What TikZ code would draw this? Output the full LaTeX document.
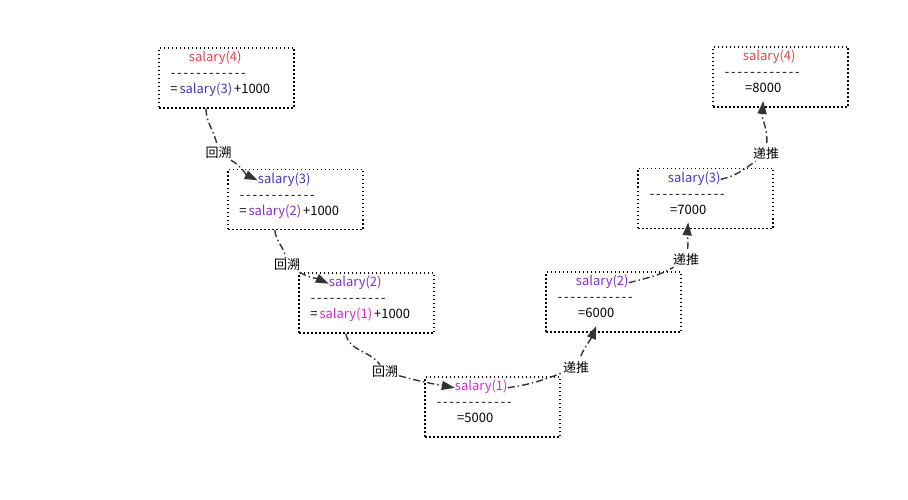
\documentclass[tikz,border=0pt]{standalone}
\usepackage{fontspec}
\newfontfamily\zhfont{Noto Sans CJK SC}
\usetikzlibrary{arrows.meta,positioning}
\definecolor{ink}{HTML}{333333}
\definecolor{sred}{HTML}{E0464B}
\definecolor{sblue}{HTML}{4338BA}
\definecolor{spurple}{HTML}{8130CC}
\definecolor{smag}{HTML}{D22BD2}
\newcommand{\dashrow}{\foreach \k in {1,...,12}{\makebox[6.4pt]{-}}}

\begin{document}
\begin{tikzpicture}[
  x=1pt, y=1pt,
  font=\zhfont\fontsize{13}{15}\selectfont,
  box/.style={draw=black, line width=1.5pt, dash pattern=on 1.5pt off 2.5pt,
              minimum width=135pt, minimum height=60pt, inner sep=0pt},
  txt/.style={inner sep=0pt, text height=9pt, text depth=3pt},
  val/.style={txt, inner ysep=5pt},
  arr/.style={-{Triangle[length=13pt, width=9pt]}, draw=ink, line width=1.4pt,
              dash pattern=on 7pt off 3pt on 1.5pt off 3pt},
  lbl/.style={fill=white, inner sep=1pt},
]
\useasboundingbox (0,0) rectangle (908,499);
% left side: backtracking
\node[box] (bx4l) at (226.5,421) {};
\node[txt, text=sred] (tl4) at ([xshift=57pt, yshift=-11.5pt]bx4l.north west) {salary(4)};
\node[txt] (dl4) at ([xshift=50pt, yshift=-27.5pt]bx4l.north west) {\dashrow};
\node[txt, anchor=west] (el4) at ([xshift=12pt, yshift=-43.5pt]bx4l.north west) {=};
\node[txt, text=sblue, right=1.5pt of el4] (cl4) {salary(3)};
\node[txt, right=1.5pt of cl4] (pl4) {+1000};

\node[box] (bx3l) at (295.5,299.5) {};
\node[txt, text=sblue] (tl3) at ([xshift=57pt, yshift=-11.5pt]bx3l.north west) {salary(3)};
\node[txt] (dl3) at ([xshift=50pt, yshift=-27.5pt]bx3l.north west) {\dashrow};
\node[txt, anchor=west] (el3) at ([xshift=12pt, yshift=-43.5pt]bx3l.north west) {=};
\node[txt, text=spurple, right=1.5pt of el3] (cl3) {salary(2)};
\node[txt, right=1.5pt of cl3] (pl3) {+1000};

\node[box] (bx2l) at (366.5,196) {};
\node[txt, text=spurple] (tl2) at ([xshift=57pt, yshift=-11.5pt]bx2l.north west) {salary(2)};
\node[txt] (dl2) at ([xshift=50pt, yshift=-27.5pt]bx2l.north west) {\dashrow};
\node[txt, anchor=west] (el2) at ([xshift=12pt, yshift=-43.5pt]bx2l.north west) {=};
\node[txt, text=smag, right=1.5pt of el2] (cl2) {salary(1)};
\node[txt, right=1.5pt of cl2] (pl2) {+1000};

% bottom
\node[box] (bx1) at (492.5,92) {};
\node[txt, text=smag] (t1) at ([xshift=57pt, yshift=-11.5pt]bx1.north west) {salary(1)};
\node[txt] (d1) at ([xshift=50pt, yshift=-27.5pt]bx1.north west) {\dashrow};
\node[val] (v1) at ([xshift=51pt, yshift=-43.5pt]bx1.north west) {=5000};

% right side: recursion back up
\node[box] (bx2r) at (613.5,197) {};
\node[txt, text=spurple] (tr2) at ([xshift=57pt, yshift=-11.5pt]bx2r.north west) {salary(2)};
\node[txt] (dr2) at ([xshift=50pt, yshift=-27.5pt]bx2r.north west) {\dashrow};
\node[val] (vr2) at ([xshift=51pt, yshift=-43.5pt]bx2r.north west) {=6000};

\node[box] (bx3r) at (705.5,300.5) {};
\node[txt, text=sblue] (tr3) at ([xshift=57pt, yshift=-11.5pt]bx3r.north west) {salary(3)};
\node[txt] (dr3) at ([xshift=50pt, yshift=-27.5pt]bx3r.north west) {\dashrow};
\node[val] (vr3) at ([xshift=51pt, yshift=-43.5pt]bx3r.north west) {=7000};

\node[box] (bx4r) at (780.5,422) {};
\node[txt, text=sred] (tr4) at ([xshift=57pt, yshift=-11.5pt]bx4r.north west) {salary(4)};
\node[txt] (dr4) at ([xshift=50pt, yshift=-27.5pt]bx4r.north west) {\dashrow};
\node[val] (vr4) at ([xshift=51pt, yshift=-43.5pt]bx4r.north west) {=8000};

% labels
\node[lbl] (bk1) at (218.5,346) {回溯};
\node[lbl] (bk2) at (287,234) {回溯};
\node[lbl] (bk3) at (385,127) {回溯};
\node[lbl] (fw1) at (576,131) {递推};
\node[lbl] (fw2) at (686,239) {递推};
\node[lbl] (fw3) at (766,345) {递推};

\draw[arr] (cl4.south |- bx4l.south) to[out=-88, in=100] (bk1) to[out=-30, in=155] (tl3.west);
\draw[arr] (cl3.south |- bx3l.south) to[out=-85, in=100] (bk2) to[out=-30, in=155] (tl2.west);
\draw[arr] (cl2.south |- bx2l.south) to[out=-80, in=125] (bk3) to[out=-15, in=170] (t1.west);
\draw[arr, shorten <=5pt] (t1.east) to[out=8, in=200] (fw1) to[out=68, in=-112] (vr2.south);
\draw[arr, shorten <=4pt] (tr2.east) to[out=15, in=210] (fw2) to[out=82, in=-95] (vr3.south);
\draw[arr, shorten <=4pt] (tr3.east) to[out=12, in=215] (fw3) to[out=86, in=-95] (vr4.south);
\end{tikzpicture}
\end{document}
